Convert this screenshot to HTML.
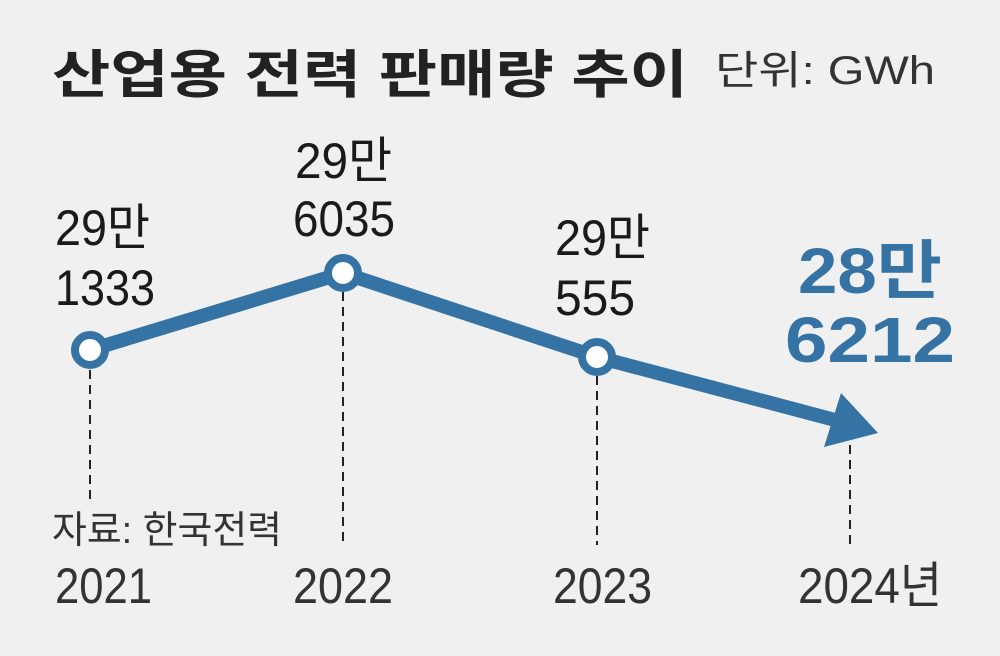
<!DOCTYPE html>
<html><head><meta charset="utf-8"><style>
html,body{margin:0;padding:0;background:#f0f0f0;}
svg text{font-family:"Liberation Sans","Noto Sans CJK KR",sans-serif;}
</style></head><body>
<svg width="1000" height="651" viewBox="0 0 1000 651" xmlns="http://www.w3.org/2000/svg">
<rect width="1000" height="651" fill="#f0f0f0"/>
<text x="52" y="93" font-size="52" font-weight="bold" fill="#222" textLength="636" lengthAdjust="spacingAndGlyphs">산업용 전력 판매량 추이</text>
<text x="715" y="84" font-size="40" fill="#333" textLength="220" lengthAdjust="spacingAndGlyphs">단위: GWh</text>
<g stroke="#222" stroke-width="2" stroke-dasharray="9,6">
<line x1="90" y1="370" x2="90" y2="500"/>
<line x1="343" y1="292" x2="343" y2="545"/>
<line x1="597" y1="376" x2="597" y2="545"/>
<line x1="850" y1="445" x2="850" y2="545"/>
</g>
<polyline points="90,350 343,273 597,357 835,420" fill="none" stroke="#3573a5" stroke-width="14" stroke-linejoin="round"/>
<polygon points="878,433 841,393 824,447" fill="#3573a5"/>
<g fill="#fff" stroke="#3573a5" stroke-width="8">
<circle cx="90" cy="350" r="15"/>
<circle cx="343" cy="273" r="15"/>
<circle cx="597" cy="357" r="15"/>
</g>
<g font-size="50" fill="#1a1a1a">
<text x="55" y="245" textLength="95" lengthAdjust="spacingAndGlyphs">29만</text>
<text x="55" y="305" textLength="100" lengthAdjust="spacingAndGlyphs">1333</text>
<text x="295" y="178" textLength="97" lengthAdjust="spacingAndGlyphs">29만</text>
<text x="293" y="236" textLength="102" lengthAdjust="spacingAndGlyphs">6035</text>
<text x="555" y="255" textLength="95" lengthAdjust="spacingAndGlyphs">29만</text>
<text x="555" y="315" textLength="80" lengthAdjust="spacingAndGlyphs">555</text>
</g>
<g font-size="64" font-weight="bold" fill="#3573a5">
<text x="798" y="293" textLength="144" lengthAdjust="spacingAndGlyphs">28만</text>
<text x="785" y="362" textLength="170" lengthAdjust="spacingAndGlyphs">6212</text>
</g>
<text x="52" y="543" font-size="38" fill="#333" textLength="230" lengthAdjust="spacingAndGlyphs">자료: 한국전력</text>
<g font-size="50" fill="#333">
<text x="55" y="603" textLength="97" lengthAdjust="spacingAndGlyphs">2021</text>
<text x="293" y="603" textLength="100" lengthAdjust="spacingAndGlyphs">2022</text>
<text x="553" y="603" textLength="99" lengthAdjust="spacingAndGlyphs">2023</text>
<text x="798" y="603" textLength="144" lengthAdjust="spacingAndGlyphs">2024년</text>
</g>
</svg>
</body></html>
